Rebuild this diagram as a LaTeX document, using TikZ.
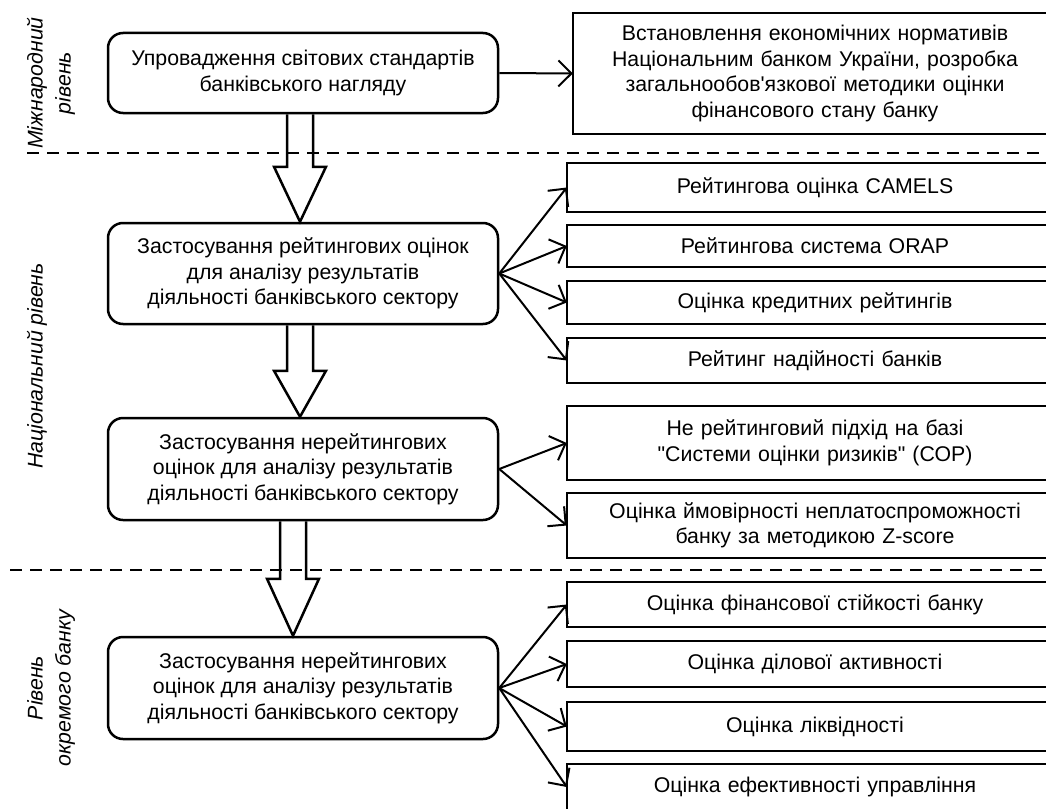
\documentclass[tikz,border=0pt]{standalone}
\usepackage{fontspec}
\setmainfont{Liberation Sans}
\usetikzlibrary{arrows.meta}

\newcommand\bigarrow[4]{%
  \draw[bigarr]
    ([xshift=#3-13pt]#1.south) -- ([xshift=#3-13pt,yshift=#4]#2.north)
    -- ([xshift=#3-26pt,yshift=#4]#2.north) -- ([xshift=#3]#2.north)
    -- ([xshift=#3+26pt,yshift=#4]#2.north) -- ([xshift=#3+13pt,yshift=#4]#2.north)
    -- ([xshift=#3+13pt]#1.south);
}

\begin{document}
\begin{tikzpicture}
    [
        x = 1pt, y = -1pt,
        every node/.style={font=\fontsize{21.3}{25.5}\selectfont},
        stage/.style={draw, line width=2.5pt, rounded corners=15pt, minimum width=390pt, align=center},
        result/.style={inner sep=0pt, align=center, text width=496pt},
        level/.style={rotate=90, align=center, font=\fontsize{21.3}{28}\selectfont\itshape},
        frame/.style={line width=2.5pt},
        fan/.style={line width=2pt, -{Straight Barb[length=13pt,width=26pt]}},
        bigarr/.style={line width=2.5pt, line join=miter},
        border/.style={line width=2.5pt, dash pattern=on 12pt off 8pt},
    ]
    \useasboundingbox (0,0) rectangle (1046,808);
    \clip (0,0) rectangle (1046,808);

    \node[stage, minimum height=80pt] (intl) at (303,73)
        {Упровадження світових стандартів\\банківського нагляду};
    \node[stage, minimum height=101pt] (rating) at (303,273.5)
        {Застосування рейтингових оцінок\\для аналізу результатів\\діяльності банківського сектору};
    \node[stage, minimum height=102pt] (nonrating) at (303,469)
        {Застосування нерейтингових\\оцінок для аналізу результатів\\діяльності банківського сектору};
    \node[stage, minimum height=102pt] (bank) at (303,688)
        {Застосування нерейтингових\\оцінок для аналізу результатів\\діяльності банківського сектору};

    \node[result, text width=484pt, minimum height=121pt] (norms) at (815,73.5)
        {Встановлення економічних нормативів\\Національним банком України, розробка\\загальнообов\textquotesingle язкової методики оцінки\\фінансового стану банку};
    \node[result, minimum height=49pt] (cam) at (815,187.5) {Рейтингова оцінка CAMELS};
    \node[result, minimum height=42pt] (orap) at (815,246) {Рейтингова система ORAP};
    \node[result, minimum height=43pt] (cred) at (815,302.5) {Оцінка кредитних рейтингів};
    \node[result, minimum height=45pt] (rel) at (815,360.5) {Рейтинг надійності банків};
    \node[result, minimum height=74pt] (cop) at (815,443)
        {Не рейтинговий підхід на базі\\\textquotedbl Системи оцінки ризиків\textquotedbl{} (СОР)};
    \node[result, minimum height=65pt] (zsc) at (815,525.5)
        {Оцінка ймовірності неплатоспроможності\\банку за методикою Z-score};
    \node[result, minimum height=45pt] (fin) at (815,604.5) {Оцінка фінансової стійкості банку};
    \node[result, minimum height=46pt] (act) at (815,664) {Оцінка ділової активності};
    \node[result, minimum height=49pt] (liq) at (815,726.5) {Оцінка ліквідності};
    \node[result, minimum height=46pt] (eff) at (815,787) {Оцінка ефективності управління};

    \foreach \n in {norms,cam,orap,cred,rel,cop,zsc,fin,act,liq,eff}
        \draw[frame] (\n.north west) rectangle ([xshift=100pt]\n.south east);

    \node[level] (lintl) at (51,83) {Міжнародний\\рівень};
    \node[level] (lnat) at (37,366) {Національний рівень};
    \node[level] (lbank) at (51,688) {Рівень\\окремого банку};

    \draw[fan] (intl.east) -- (norms.west);
    \foreach \n in {cam,orap,cred,rel}
        \draw[fan] (rating.east) -- (\n.west);
    \foreach \n in {cop,zsc}
        \draw[fan] (nonrating.east) -- (\n.west);
    \foreach \n in {fin,act,liq,eff}
        \draw[fan] (bank.east) -- (\n.west);

    \bigarrow{intl}{rating}{-3pt}{55pt}
    \bigarrow{rating}{nonrating}{-3pt}{46pt}
    \bigarrow{nonrating}{bank}{-10pt}{57pt}

    \coordinate (top west) at (27,153);
    \coordinate (top east) at (1046,153);
    \coordinate (low west) at (10,570);
    \coordinate (low east) at (1046,570);
    \draw[border] (top west) -- (top east);
    \draw[border] (low west) -- (low east);
\end{tikzpicture}
\end{document}
